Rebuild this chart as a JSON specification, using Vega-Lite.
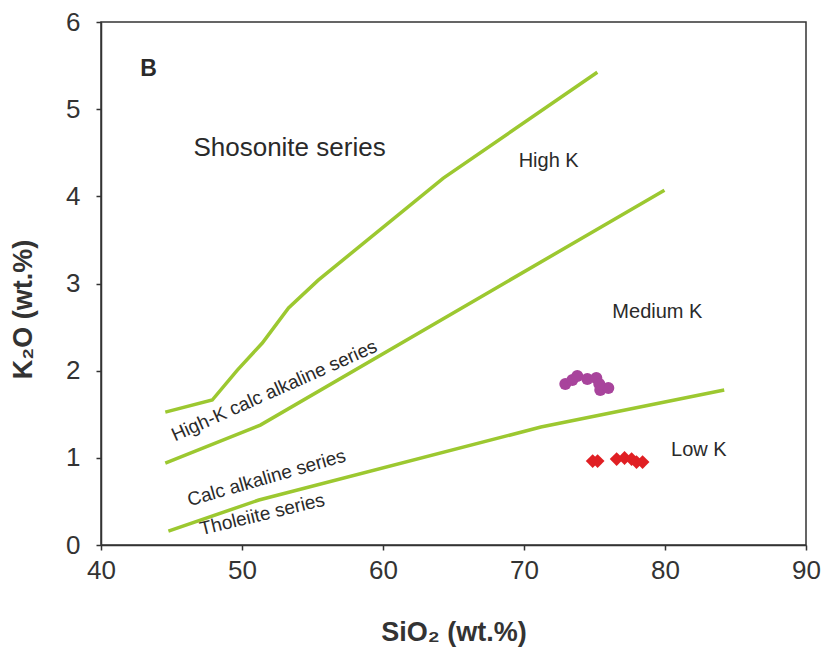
{
  "$schema": "https://vega.github.io/schema/vega-lite/v6.json",
  "width": 705,
  "height": 523,
  "autosize": {"type": "none"},
  "padding": {"left": 101, "top": 22, "right": 18, "bottom": 117},
  "background": "white",
  "config": {
    "font": "Liberation Sans",
    "view": {"stroke": "#333333", "strokeWidth": 1.5},
    "axis": {
      "grid": false,
      "domainColor": "#333333",
      "domainWidth": 1.5,
      "tickColor": "#333333",
      "tickWidth": 1.5,
      "tickSize": 5,
      "labelFlush": false,
      "labelFont": "Liberation Sans",
      "labelFontSize": 26,
      "labelColor": "#333333",
      "titleFont": "Liberation Sans",
      "titleFontSize": 27,
      "titleFontWeight": "bold",
      "titleColor": "#333333"
    }
  },
  "datasets": {
    "lines": [
      {"series": "a", "o": 1, "x": 44.56, "y": 1.525},
      {"series": "a", "o": 2, "x": 47.89, "y": 1.663},
      {"series": "a", "o": 3, "x": 49.67, "y": 2.007},
      {"series": "a", "o": 4, "x": 51.44, "y": 2.317},
      {"series": "a", "o": 5, "x": 53.3, "y": 2.72},
      {"series": "a", "o": 6, "x": 55.41, "y": 3.039},
      {"series": "a", "o": 7, "x": 64.28, "y": 4.209},
      {"series": "a", "o": 8, "x": 75.2, "y": 5.424},
      {"series": "b", "o": 1, "x": 44.56, "y": 0.94},
      {"series": "b", "o": 2, "x": 51.3, "y": 1.376},
      {"series": "b", "o": 3, "x": 79.96, "y": 4.07},
      {"series": "c", "o": 1, "x": 44.78, "y": 0.16},
      {"series": "c", "o": 2, "x": 51.2, "y": 0.516},
      {"series": "c", "o": 3, "x": 71.2, "y": 1.353},
      {"series": "c", "o": 4, "x": 84.2, "y": 1.778}
    ],
    "circles": [
      {"x": 72.93, "y": 1.846},
      {"x": 73.43, "y": 1.892},
      {"x": 73.78, "y": 1.938},
      {"x": 74.49, "y": 1.904},
      {"x": 75.13, "y": 1.915},
      {"x": 75.41, "y": 1.778},
      {"x": 75.98, "y": 1.8},
      {"x": 75.34, "y": 1.846}
    ],
    "diamonds": [
      {"x": 74.87, "y": 0.963},
      {"x": 75.22, "y": 0.963},
      {"x": 76.57, "y": 0.986},
      {"x": 77.13, "y": 0.998},
      {"x": 77.63, "y": 0.986},
      {"x": 77.98, "y": 0.952},
      {"x": 78.41, "y": 0.952}
    ],
    "labels": [
      {"t": "Shosonite series", "x": 53.37, "y": 4.55, "a": 0, "s": 26},
      {"t": "High K", "x": 71.75, "y": 4.41, "a": 0, "s": 20},
      {"t": "Medium K", "x": 79.46, "y": 2.67, "a": 0, "s": 20},
      {"t": "Low K", "x": 82.4, "y": 1.09, "a": 0, "s": 20},
      {"t": "High-K calc alkaline series", "x": 52.29, "y": 1.77, "a": -24, "s": 19},
      {"t": "Calc alkaline series", "x": 51.74, "y": 0.77, "a": -16, "s": 19},
      {"t": "Tholeiite series", "x": 51.44, "y": 0.35, "a": -13.5, "s": 19}
    ],
    "panel": [
      {"t": "B", "x": 43.37, "y": 5.46}
    ]
  },
  "layer": [
    {
      "data": {"name": "lines"},
      "mark": {"type": "line", "color": "#9cc830", "strokeWidth": 3.5},
      "encoding": {
        "x": {"field": "x", "type": "quantitative", "scale": {"domain": [40, 90]},
          "axis": {"values": [40, 50, 60, 70, 80, 90], "format": "d", "title": "SiO₂ (wt.%)", "labelPadding": 7, "titlePadding": 36}},
        "y": {"field": "y", "type": "quantitative", "scale": {"domain": [0, 6]},
          "axis": {"values": [0, 1, 2, 3, 4, 5, 6], "format": "d", "title": "K₂O (wt.%)", "labelPadding": 16, "titleX": -64, "titleY": 287}},
        "detail": {"field": "series"},
        "order": {"field": "o"}
      }
    },
    {
      "data": {"name": "circles"},
      "mark": {"type": "point", "shape": "circle", "filled": true, "color": "#a8449c", "opacity": 1, "size": 145},
      "encoding": {
        "x": {"field": "x", "type": "quantitative"},
        "y": {"field": "y", "type": "quantitative"}
      }
    },
    {
      "data": {"name": "diamonds"},
      "mark": {"type": "point", "shape": "diamond", "filled": true, "color": "#e01f23", "opacity": 1, "size": 190},
      "encoding": {
        "x": {"field": "x", "type": "quantitative"},
        "y": {"field": "y", "type": "quantitative"}
      }
    },
    {
      "data": {"name": "labels"},
      "mark": {"type": "text", "color": "#2a2a2a", "font": "Liberation Sans", "align": "center", "baseline": "middle"},
      "encoding": {
        "x": {"field": "x", "type": "quantitative"},
        "y": {"field": "y", "type": "quantitative"},
        "text": {"field": "t"},
        "angle": {"field": "a", "type": "quantitative", "scale": null},
        "size": {"field": "s", "type": "quantitative", "scale": null}
      }
    },
    {
      "data": {"name": "panel"},
      "mark": {"type": "text", "color": "#2a2a2a", "font": "Liberation Sans", "fontWeight": "bold", "fontSize": 23, "align": "center", "baseline": "middle"},
      "encoding": {
        "x": {"field": "x", "type": "quantitative"},
        "y": {"field": "y", "type": "quantitative"},
        "text": {"field": "t"}
      }
    }
  ]
}
